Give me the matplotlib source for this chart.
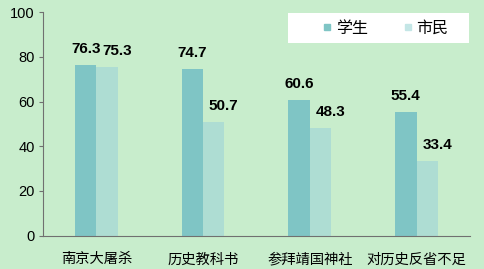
import numpy as np
import matplotlib
matplotlib.use("Agg")
import matplotlib.pyplot as plt
from matplotlib.lines import Line2D
from matplotlib.patches import Rectangle

plt.rcParams['font.family'] = ['Liberation Sans', 'Noto Sans CJK SC', 'DejaVu Sans']

# ── data ─────────────────────────────────────────
categories = ["南京大屠杀", "历史教科书", "参拜靖国神社", "对历史反省不足"]
students = [76.3, 74.7, 60.6, 55.4]
citizens = [75.3, 50.7, 48.3, 33.4]
series_names = ["学生", "市民"]
y_ticks = [0, 20, 40, 60, 80, 100]

BG = "#C8EDCC"
C_STU = "#7FC5C5"
C_CIT = "#AEDDD3"

fig = plt.figure(figsize=(4.84, 2.69), dpi=100, facecolor=BG)
ax = fig.add_axes([0.0888, 0.1238, 0.882, 0.831], facecolor=BG)

x = np.arange(len(categories))
w = 0.2
ax.bar(x - w / 2, students, w, color=C_STU, zorder=2)
ax.bar(x + w / 2, citizens, w, color=C_CIT, zorder=2)

# value labels (citizen labels sit a bit to the right)
for xi, v in zip(x, students):
    ax.annotate(f"{v:.1f}", (xi - w / 2, v), xytext=(0, 6.5), textcoords="offset points",
                ha="center", va="bottom", fontsize=11, fontweight="bold")
for xi, v in zip(x, citizens):
    ax.annotate(f"{v:.1f}", (xi + w / 2, v), xytext=(7.2, 6.5), textcoords="offset points",
                ha="center", va="bottom", fontsize=11, fontweight="bold")

ax.set_xlim(-0.5, len(categories) - 0.5)
ax.set_ylim(0, 100)
ax.set_yticks(y_ticks)
ax.set_xticks(x)
ax.set_xticklabels(categories, fontsize=10.3)
ax.tick_params(axis="x", length=0, pad=12)
ax.tick_params(axis="y", length=3, color="#707070", labelsize=10.5, pad=3)
for s in ["top", "right"]:
    ax.spines[s].set_visible(False)
for s in ["left", "bottom"]:
    ax.spines[s].set_color("#707070")

# legend box
ax.add_patch(Rectangle((0.574, 0.861), 0.424, 0.135, transform=ax.transAxes,
                       facecolor="white", edgecolor="none", clip_on=False, zorder=3))
handles = [Line2D([], [], marker="s", linestyle="none", markersize=5, color=C_STU),
           Line2D([], [], marker="s", linestyle="none", markersize=5, color="#C4E6E6")]
ax.legend(handles, series_names, loc="center", bbox_to_anchor=(0.80, 0.928), ncol=2,
          frameon=False, fontsize=11.5, handlelength=0.8, handletextpad=0.15,
          columnspacing=2.1, borderpad=0).set_zorder(4)

fig.savefig("out.png", dpi=100, facecolor=BG)
